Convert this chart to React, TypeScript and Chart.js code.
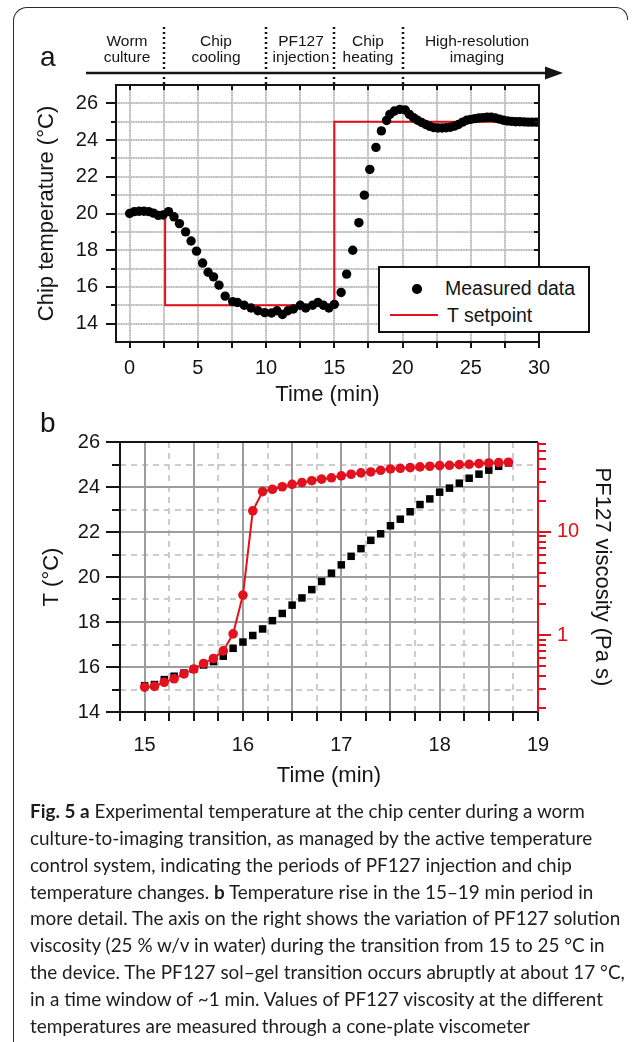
import React, { useEffect, useRef } from 'react';
import { Chart, registerables } from 'chart.js';
Chart.register(...registerables);

// ---------- Panel a data ----------
const aTime = [
  0.0, 0.35, 0.7, 1.05, 1.4, 1.75, 2.1, 2.45, 2.85, 3.25, 3.65, 4.1, 4.5, 4.9, 5.35, 5.75, 6.15, 6.55, 7.0, 7.55,
  7.9, 8.4, 8.9, 9.4, 9.9, 10.4, 10.8, 11.2, 11.6, 12.0, 12.5, 12.9, 13.4, 13.8, 14.2, 14.6, 15.0, 15.5, 15.9, 16.35,
  16.8, 17.2, 17.6, 18.05, 18.45, 18.83, 19.07, 19.4, 19.8, 20.2, 20.5, 20.8, 21.1, 21.4, 21.7, 22.0, 22.3, 22.6, 22.9, 23.2,
  23.5, 23.8, 24.1, 24.4, 24.7, 25.0, 25.3, 25.6, 25.9, 26.2, 26.5, 26.8, 27.1, 27.4, 27.7, 28.0, 28.3, 28.6, 28.9, 29.2,
  29.5, 29.8,
];
const aTemp = [
  20.0, 20.1, 20.12, 20.12, 20.1, 20.02, 19.9, 19.92, 20.1, 19.82, 19.45, 19.0, 18.5, 17.95, 17.3, 16.8, 16.55, 16.1, 15.5, 15.2,
  15.15, 15.0, 14.85, 14.7, 14.6, 14.58, 14.7, 14.5, 14.7, 14.8, 15.0, 14.85, 15.0, 15.15, 15.0, 14.85, 15.05, 15.7, 16.7, 18.0,
  19.5, 21.0, 22.4, 23.6, 24.5, 25.07, 25.4, 25.58, 25.67, 25.64, 25.4, 25.22, 25.08, 24.96, 24.85, 24.75, 24.68, 24.66, 24.66, 24.67,
  24.7, 24.76, 24.85, 24.98, 25.08, 25.13, 25.17, 25.2, 25.22, 25.24, 25.24, 25.2, 25.14, 25.08, 25.04, 25.02, 25.0, 25.0, 24.99, 24.98,
  24.98, 24.98,
];
const aSetTime = [0, 2.6, 2.6, 15, 15, 30];
const aSetTemp = [20, 20, 15, 15, 25, 25];
const aXTicks = [0, 5, 10, 15, 20, 25, 30];
const aYTicks = [14, 16, 18, 20, 22, 24, 26];
const aGridX = [0, 2.5, 5, 7.5, 10, 12.5, 15, 17.5, 20, 22.5, 25, 27.5, 30];
const aGridY = [14, 15, 16, 17, 18, 19, 20, 21, 22, 23, 24, 25, 26];
const aPhaseBounds = [2.5, 10, 15, 20];
const aPhaseLabels = [
  ['Worm', 'culture'],
  ['Chip', 'cooling'],
  ['PF127', 'injection'],
  ['Chip', 'heating'],
  ['High-resolution', 'imaging'],
];
const aPhaseCenters = [127, 216, 301, 368, 477];

// ---------- Panel b data ----------
const bTime = [
  15.0, 15.1, 15.2, 15.3, 15.4, 15.5, 15.6, 15.7, 15.8, 15.9, 16.0, 16.1, 16.2, 16.3, 16.4, 16.5, 16.6, 16.7, 16.8, 16.9,
  17.0, 17.1, 17.2, 17.3, 17.4, 17.5, 17.6, 17.7, 17.8, 17.9, 18.0, 18.1, 18.2, 18.3, 18.4, 18.5, 18.6, 18.7,
];
const bTemp = [
  15.17, 15.22, 15.44, 15.59, 15.73, 15.9, 16.09, 16.24, 16.48, 16.83, 17.11, 17.4, 17.69, 18.06, 18.38, 18.75, 19.07, 19.44, 19.8, 20.17,
  20.54, 20.92, 21.26, 21.63, 21.92, 22.28, 22.57, 22.9, 23.22, 23.47, 23.77, 23.95, 24.17, 24.39, 24.57, 24.75, 24.92, 25.07,
];
const bVisc = [
  0.315, 0.32, 0.351, 0.379, 0.422, 0.471, 0.533, 0.595, 0.705, 1.03, 2.44, 15.9, 24.4, 25.7, 27.2, 28.7, 29.9, 31.1, 32.2, 33.2,
  34.7, 35.9, 37.0, 37.8, 39.2, 40.4, 41.0, 41.6, 42.3, 42.9, 43.5, 43.8, 44.5, 44.8, 45.5, 46.2, 46.5, 46.9,
];
const bXTicks = [15, 16, 17, 18, 19];
const bYTicks = [14, 16, 18, 20, 22, 24, 26];
const bViscTicks = [1, 10];
const bGridXMajor = [15, 15.5, 16, 16.5, 17, 17.5, 18, 18.5];
const bGridXMinor = [15.25, 15.75, 16.25, 16.75, 17.25, 17.75, 18.25, 18.75];
const bGridYMajor = [16, 18, 20, 22, 24];
const bGridYMinor = [15, 17, 19, 21, 23, 25];
const bTickX = [14.75, 15, 15.25, 15.5, 15.75, 16, 16.25, 16.5, 16.75, 17, 17.25, 17.5, 17.75, 18, 18.25, 18.5, 18.75, 19];
const bTickY = [14, 15, 16, 17, 18, 19, 20, 21, 22, 23, 24, 25, 26];
const bViscMinor = [0.2, 0.3, 0.4, 0.5, 0.6, 0.7, 0.8, 0.9, 2, 3, 4, 5, 6, 7, 8, 9, 20, 30, 40, 50, 60, 70];

const RED = '#e3101e';
const INK = '#151515';
const FONT = "'Liberation Sans', Arial, Helvetica, sans-serif";

function strokeLines(ctx: CanvasRenderingContext2D, lines: number[][]) {
  ctx.beginPath();
  lines.forEach(([x1, y1, x2, y2]) => {
    ctx.moveTo(x1, y1);
    ctx.lineTo(x2, y2);
  });
  ctx.stroke();
}

const frameA = {
  id: 'frameA',
  beforeDatasetsDraw(chart: any) {
    const { ctx, chartArea: ca, scales } = chart;
    const x = scales.x, y = scales.y;
    const lines: number[][] = [];
    aGridX.forEach((v) => {
      const px = Math.round(x.getPixelForValue(v));
      lines.push([px, ca.top, px, ca.bottom]);
    });
    aGridY.forEach((v) => {
      const py = Math.round(y.getPixelForValue(v));
      lines.push([ca.left, py, ca.right, py]);
    });
    ctx.save();
    ctx.strokeStyle = '#d6d6d6';
    ctx.lineWidth = 2;
    strokeLines(ctx, lines);
    ctx.strokeStyle = '#9a9a9a';
    ctx.lineWidth = 1;
    ctx.setLineDash([1, 1.5]);
    strokeLines(ctx, lines);
    ctx.restore();
  },
  afterDatasetsDraw(chart: any) {
    const { ctx, chartArea: ca, scales } = chart;
    const x = scales.x, y = scales.y;
    ctx.save();
    ctx.strokeStyle = INK;
    ctx.lineWidth = 2;
    ctx.strokeRect(ca.left, ca.top, ca.right - ca.left, ca.bottom - ca.top);
    const ticks: number[][] = [];
    aGridY.forEach((v) => {
      const py = Math.round(y.getPixelForValue(v));
      const len = v % 2 === 0 ? 10 : 5;
      ticks.push([ca.left - len, py, ca.left, py]);
      ticks.push([ca.right - 5, py, ca.right, py]);
    });
    aGridX.forEach((v) => {
      const px = Math.round(x.getPixelForValue(v));
      ticks.push([px, ca.bottom, px, ca.bottom + 6]);
      ticks.push([px, ca.top, px, ca.top + 5]);
    });
    strokeLines(ctx, ticks);
    // phase separators
    ctx.lineWidth = 2.5;
    ctx.setLineDash([2, 3]);
    const seps: number[][] = aPhaseBounds.map((v) => {
      const px = Math.round(x.getPixelForValue(v));
      return [px, 27, px, ca.top];
    });
    strokeLines(ctx, seps);
    ctx.setLineDash([]);
    // arrow
    ctx.lineWidth = 2.5;
    strokeLines(ctx, [[86, 73, 548, 73]]);
    ctx.fillStyle = INK;
    ctx.beginPath();
    ctx.moveTo(545, 66.5);
    ctx.lineTo(563, 73);
    ctx.lineTo(545, 79.5);
    ctx.closePath();
    ctx.fill();
    ctx.restore();
  },
};

const frameB = {
  id: 'frameB',
  beforeDatasetsDraw(chart: any) {
    const { ctx, chartArea: ca, scales } = chart;
    const x = scales.x, y = scales.y;
    const major: number[][] = [];
    const minor: number[][] = [];
    bGridXMajor.forEach((v) => {
      const px = Math.round(x.getPixelForValue(v));
      major.push([px, ca.top, px, ca.bottom]);
    });
    bGridXMinor.forEach((v) => {
      const px = Math.round(x.getPixelForValue(v));
      minor.push([px, ca.top, px, ca.bottom]);
    });
    bGridYMajor.forEach((v) => {
      const py = Math.round(y.getPixelForValue(v));
      major.push([ca.left, py, ca.right, py]);
    });
    bGridYMinor.forEach((v) => {
      const py = Math.round(y.getPixelForValue(v));
      minor.push([ca.left, py, ca.right, py]);
    });
    ctx.save();
    ctx.strokeStyle = '#cccccc';
    ctx.lineWidth = 2;
    ctx.setLineDash([6, 5]);
    strokeLines(ctx, minor);
    ctx.setLineDash([]);
    ctx.strokeStyle = '#9d9d9d';
    ctx.lineWidth = 2;
    strokeLines(ctx, major);
    ctx.restore();
  },
  afterDatasetsDraw(chart: any) {
    const { ctx, chartArea: ca, scales } = chart;
    const x = scales.x, y = scales.y, y2 = scales.y2;
    ctx.save();
    ctx.lineWidth = 2;
    ctx.strokeStyle = INK;
    const black: number[][] = [
      [ca.left, ca.top, ca.right, ca.top],
      [ca.left, ca.bottom, ca.right + 1, ca.bottom],
      [ca.left, ca.top - 1, ca.left, ca.bottom],
    ];
    bTickX.forEach((v) => {
      const px = Math.round(x.getPixelForValue(v));
      black.push([px, ca.bottom, px, ca.bottom + 9]);
    });
    bTickY.forEach((v) => {
      const py = Math.round(y.getPixelForValue(v));
      const len = v % 2 === 0 ? 14 : 8;
      black.push([ca.left - len, py, ca.left, py]);
    });
    strokeLines(ctx, black);
    ctx.strokeStyle = RED;
    const red: number[][] = [[ca.right, ca.top, ca.right, ca.bottom]];
    bViscMinor.forEach((v) => {
      const py = Math.round(y2.getPixelForValue(v));
      red.push([ca.right, py, ca.right + 8, py]);
    });
    bViscTicks.forEach((v) => {
      const py = Math.round(y2.getPixelForValue(v));
      red.push([ca.right, py, ca.right + 13, py]);
    });
    strokeLines(ctx, red);
    ctx.restore();
  },
};

function ChartA() {
  const ref = useRef<HTMLCanvasElement>(null);
  useEffect(() => {
    const chart = new Chart(ref.current as HTMLCanvasElement, {
      type: 'scatter',
      data: {
        datasets: [
          {
            label: 'Measured data',
            data: aTime.map((t, i) => ({ x: t, y: aTemp[i] })),
            showLine: false,
            pointRadius: 4.7,
            pointBackgroundColor: '#000',
            pointBorderWidth: 0,
            borderColor: '#000',
          },
          {
            label: 'T setpoint',
            data: aSetTime.map((t, i) => ({ x: t, y: aSetTemp[i] })),
            showLine: true,
            borderColor: RED,
            borderWidth: 2,
            pointRadius: 0,
            tension: 0,
          },
        ],
      },
      options: {
        animation: false,
        responsive: false,
        devicePixelRatio: 1,
        layout: { padding: { left: 0, top: 85, right: 94, bottom: 0 } },
        plugins: { legend: { display: false }, tooltip: { enabled: false } },
        scales: {
          x: {
            type: 'linear',
            min: -1,
            max: 30,
            afterBuildTicks: (s: any) => {
              s.ticks = aXTicks.map((v) => ({ value: v }));
            },
            afterFit: (s: any) => {
              s.height = 68;
            },
            grid: { display: false, drawTicks: false },
            border: { display: false },
            ticks: { padding: 14, autoSkip: false, maxRotation: 0, color: INK, font: { family: FONT, size: 20 } },
            title: { display: true, text: 'Time (min)', color: INK, font: { family: FONT, size: 22 }, padding: { top: 0, bottom: 2 } },
          },
          y: {
            type: 'linear',
            min: 13,
            max: 27,
            afterBuildTicks: (s: any) => {
              s.ticks = aYTicks.map((v) => ({ value: v }));
            },
            afterFit: (s: any) => {
              s.width = 116;
            },
            grid: { display: false, drawTicks: false },
            border: { display: false },
            ticks: { padding: 18, autoSkip: false, color: INK, font: { family: FONT, size: 20 } },
            title: { display: true, text: 'Chip temperature (°C)', color: INK, font: { family: FONT, size: 22 }, padding: { top: 34, bottom: 0 } },
          },
        },
      },
      plugins: [frameA],
    });
    return () => chart.destroy();
  }, []);
  return <canvas ref={ref} width={633} height={410} style={{ position: 'absolute', left: 0, top: 0, width: 633, height: 410 }} />;
}

function ChartB() {
  const ref = useRef<HTMLCanvasElement>(null);
  useEffect(() => {
    const chart = new Chart(ref.current as HTMLCanvasElement, {
      type: 'scatter',
      data: {
        datasets: [
          {
            label: 'PF127 viscosity',
            data: bTime.map((t, i) => ({ x: t, y: bVisc[i] })),
            yAxisID: 'y2',
            showLine: true,
            borderColor: RED,
            borderWidth: 2,
            pointRadius: 4.8,
            pointBackgroundColor: RED,
            pointBorderWidth: 0,
            tension: 0,
          },
          {
            label: 'T',
            data: bTime.map((t, i) => ({ x: t, y: bTemp[i] })),
            yAxisID: 'y',
            showLine: false,
            pointStyle: 'rect',
            pointRadius: 5.3,
            pointBackgroundColor: '#000',
            pointBorderWidth: 0,
            borderColor: '#000',
          },
        ],
      },
      options: {
        animation: false,
        responsive: false,
        devicePixelRatio: 1,
        layout: { padding: { left: 0, top: 28, right: 0, bottom: 0 } },
        plugins: { legend: { display: false }, tooltip: { enabled: false } },
        scales: {
          x: {
            type: 'linear',
            min: 14.75,
            max: 19,
            afterBuildTicks: (s: any) => {
              s.ticks = bXTicks.map((v) => ({ value: v }));
            },
            afterFit: (s: any) => {
              s.height = 98;
            },
            grid: { display: false, drawTicks: false },
            border: { display: false },
            ticks: { padding: 21, autoSkip: false, maxRotation: 0, color: INK, font: { family: FONT, size: 20 } },
            title: { display: true, text: 'Time (min)', color: INK, font: { family: FONT, size: 22 }, padding: { top: 0, bottom: 21 } },
          },
          y: {
            type: 'linear',
            position: 'left',
            min: 14,
            max: 26,
            afterBuildTicks: (s: any) => {
              s.ticks = bYTicks.map((v) => ({ value: v }));
            },
            afterFit: (s: any) => {
              s.width = 120;
            },
            grid: { display: false, drawTicks: false },
            border: { display: false },
            ticks: { padding: 20, autoSkip: false, color: INK, font: { family: FONT, size: 20 } },
            title: { display: true, text: 'T (°C)', color: INK, font: { family: FONT, size: 22 }, padding: { top: 39, bottom: 0 } },
          },
          y2: {
            type: 'logarithmic',
            position: 'right',
            min: 0.181,
            max: 73.6,
            afterBuildTicks: (s: any) => {
              s.ticks = bViscTicks.map((v) => ({ value: v }));
            },
            afterFit: (s: any) => {
              s.width = 95;
            },
            grid: { display: false, drawTicks: false },
            border: { display: false },
            ticks: { padding: 19, autoSkip: false, color: RED, font: { family: FONT, size: 20 }, callback: (v: any) => String(v) },
            title: { display: true, text: 'PF127 viscosity (Pa s)', color: INK, font: { family: FONT, size: 22 }, padding: { top: 18, bottom: 0 } },
          },
        },
      },
      plugins: [frameB],
    });
    return () => chart.destroy();
  }, []);
  return <canvas ref={ref} width={633} height={400} style={{ position: 'absolute', left: 0, top: 410, width: 633, height: 400 }} />;
}

const captionLines: React.ReactNode[] = [
  <><b>Fig. 5 a</b> Experimental temperature at the chip center during a worm</>,
  <>culture-to-imaging transition, as managed by the active temperature</>,
  <>control system, indicating the periods of PF127 injection and chip</>,
  <>temperature changes. <b>b</b> Temperature rise in the 15–19 min period in</>,
  <>more detail. The axis on the right shows the variation of PF127 solution</>,
  <>viscosity (25 % w/v in water) during the transition from 15 to 25 °C in</>,
  <>the device. The PF127 sol–gel transition occurs abruptly at about 17 °C,</>,
  <>in a time window of ~1 min. Values of PF127 viscosity at the different</>,
  <>temperatures are measured through a cone-plate viscometer</>,
];

export default function App() {
  return (
    <div style={{ position: 'absolute', left: 0, top: 0, width: 633, height: 1042, background: '#fff', overflow: 'hidden', fontFamily: FONT, color: INK }}>
      {/* figure frame */}
      <div style={{ position: 'absolute', left: 13, top: 7, width: 600, height: 1040, borderTop: '1.5px solid #2a2a2a', borderLeft: '1.5px solid #2a2a2a', borderTopLeftRadius: 14 }} />
      <div style={{ position: 'absolute', left: 600, top: 7, width: 27, height: 12, borderTop: '1.5px solid #2a2a2a', borderRight: '1.5px solid #2a2a2a', borderTopRightRadius: 12 }} />
      <ChartA />
      <ChartB />
      {/* panel letters */}
      <div style={{ position: 'absolute', left: 40, top: 43, fontSize: 28, lineHeight: '28px' }}>a</div>
      <div style={{ position: 'absolute', left: 40, top: 409, fontSize: 28, lineHeight: '28px' }}>b</div>
      {/* phase labels */}
      {aPhaseLabels.map((lines, i) => (
        <div key={i} style={{ position: 'absolute', left: aPhaseCenters[i] - 70, top: 33, width: 140, textAlign: 'center', fontSize: 15.5, lineHeight: '16px' }}>
          {lines[0]}
          <br />
          {lines[1]}
        </div>
      ))}
      {/* legend of panel a */}
      <div style={{ position: 'absolute', left: 378, top: 266, width: 212, height: 67, boxSizing: 'border-box', border: '2px solid #111', background: '#fff' }}>
        <div style={{ position: 'absolute', left: 32, top: 16, width: 9.5, height: 9.5, borderRadius: '50%', background: '#000' }} />
        <div style={{ position: 'absolute', left: 65, top: 9, fontSize: 19.5, lineHeight: '22px', whiteSpace: 'nowrap' }}>Measured data</div>
        <div style={{ position: 'absolute', left: 10, top: 46, width: 48, height: 2, background: RED }} />
        <div style={{ position: 'absolute', left: 67, top: 36, fontSize: 19.5, lineHeight: '22px', whiteSpace: 'nowrap' }}>T setpoint</div>
      </div>
      {/* caption */}
      <div style={{ position: 'absolute', left: 30, top: 798, fontFamily: "Lato, 'Open Sans', sans-serif", fontSize: 18.9, lineHeight: '26.85px', color: '#1d1d1d' }}>
        {captionLines.map((l, i) => (
          <div key={i} style={{ whiteSpace: 'nowrap' }}>{l}</div>
        ))}
      </div>
    </div>
  );
}
